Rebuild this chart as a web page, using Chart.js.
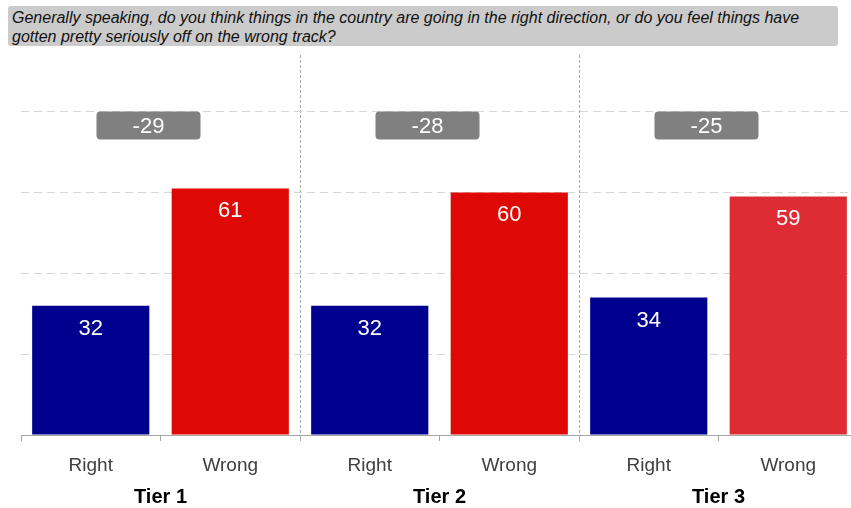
<!DOCTYPE html>
<html>
<head>
<meta charset="utf-8">
<script src="https://cdn.jsdelivr.net/npm/chart.js@4/dist/chart.umd.min.js"></script>
<style>
  html, body { margin: 0; padding: 0; background: #fff; overflow: hidden; }
  #wrap { position: absolute; left: 0; top: 0; width: 860px; height: 508px; }
  #question {
    position: absolute; left: 8px; top: 6px; width: 824px; height: 38px;
    padding: 2px 2px 0 4px;
    background: #cbcbcb; border-radius: 3px;
    font: italic 16px "Liberation Sans", Arial, sans-serif; line-height: 19px;
    color: #111; white-space: nowrap;
  }
</style>
</head>
<body>
<div id="wrap">
  <canvas id="myChart" width="860" height="508"></canvas>
</div>
<div id="question">Generally speaking, do you think things in the country are going in the right direction, or do you feel things have<br>gotten pretty seriously off on the wrong track?</div>
<script>
const tiers = ['Tier 1', 'Tier 2', 'Tier 3'];
const answers = ['Right', 'Wrong'];
const rightDir = [32, 32, 34];
const wrongTrack = [61, 60, 59];

const rightColor = '#00008f';
const wrongColors = ['#de0905', '#de0905', '#dd2c33'];

// one bar per answer, grouped tier by tier
const labels = [];
const values = [];
const colors = [];
tiers.forEach((t, i) => {
  labels.push(answers[0], answers[1]);
  values.push(rightDir[i], wrongTrack[i]);
  colors.push(rightColor, wrongColors[i]);
});

const FONT = '"Liberation Sans", Arial, sans-serif';

// white numbers near the top of each bar, plus the grey net boxes
const barLabels = {
  id: 'barLabels',
  afterDatasetsDraw(chart) {
    const ctx = chart.ctx;
    const meta = chart.getDatasetMeta(0);
    ctx.save();
    ctx.fillStyle = '#fff';
    ctx.font = '22px ' + FONT;
    ctx.textAlign = 'center';
    ctx.textBaseline = 'alphabetic';
    meta.data.forEach((bar, i) => {
      ctx.fillText(values[i], bar.x, bar.y + 29);
    });

    const tierScale = chart.scales.tier;
    const y = chart.scales.y;
    const top = y.getPixelForValue(80);
    tiers.forEach((t, i) => {
      const cx = tierScale.getPixelForValue(i) - 12;
      const w = 104, h = 28;
      ctx.fillStyle = '#808080';
      ctx.beginPath();
      ctx.roundRect(cx - w / 2, top, w, h, 4);
      ctx.fill();
      ctx.fillStyle = '#fff';
      ctx.textBaseline = 'middle';
      ctx.fillText(String(rightDir[i] - wrongTrack[i]), cx, top + h / 2 + 1);
    });
    ctx.restore();
  }
};

new Chart(document.getElementById('myChart'), {
  type: 'bar',
  data: {
    labels: labels,
    datasets: [{
      data: values,
      backgroundColor: colors,
      borderWidth: 0,
      barPercentage: 0.84,
      categoryPercentage: 1
    }]
  },
  options: {
    responsive: false,
    animation: false,
    layout: { padding: { left: 21, right: 2, top: 55, bottom: 0 } },
    scales: {
      x: {
        position: 'bottom',
        weight: 0,
        offset: true,
        // pull the tier row up closer to the answer labels
        afterFit: (scale) => { scale.height = 47; },
        grid: {
          offset: true,
          color: (c) => (c.index === 2 || c.index === 4) ? '#a6a6a6' : 'rgba(0,0,0,0)',
          tickColor: '#a6a6a6',
          tickLength: 6,
          lineWidth: 1
        },
        border: { display: true, color: '#a6a6a6', width: 1, dash: [3, 2] },
        ticks: {
          color: '#404040',
          padding: 13,
          font: { family: FONT, size: 19, lineHeight: 1.2 }
        }
      },
      tier: {
        type: 'category',
        position: 'bottom',
        weight: 1,
        labels: tiers,
        offset: true,
        afterFit: (scale) => { scale.height = 26; },
        grid: { display: false, drawTicks: false },
        border: { display: false },
        ticks: {
          color: '#000',
          padding: 3,
          font: { family: FONT, size: 20, weight: 'bold', lineHeight: 1.2 }
        }
      },
      y: {
        min: 0,
        max: 94,
        ticks: { display: false, stepSize: 20 },
        grid: {
          drawTicks: false,
          color: (c) => (c.tick && c.tick.value > 0 && c.tick.value % 20 === 0) ? '#d6d6d6' : 'rgba(0,0,0,0)',
          lineWidth: 1
        },
        border: { display: false, dash: [8, 5] }
      }
    },
    plugins: {
      legend: { display: false },
      tooltip: { enabled: false }
    }
  },
  plugins: [barLabels]
});
</script>
</body>
</html>
